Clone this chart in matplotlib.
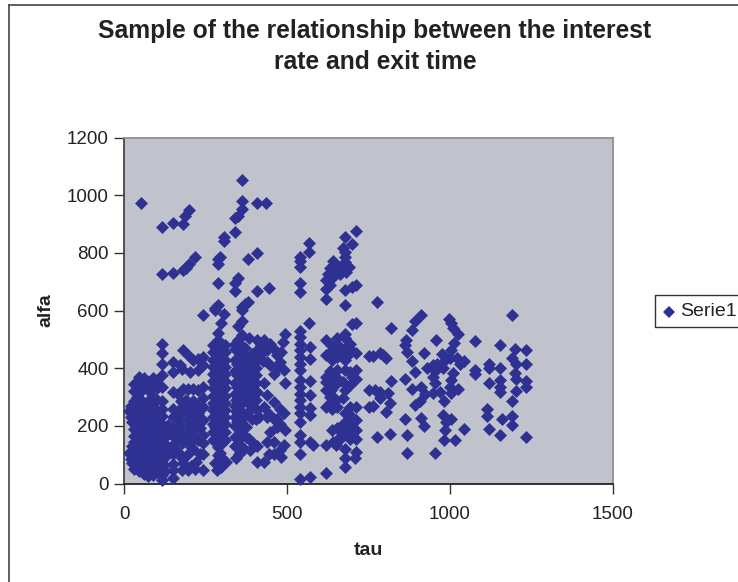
import matplotlib
matplotlib.use("Agg")
import matplotlib.pyplot as plt
from matplotlib.lines import Line2D

plt.rcParams['font.family'] = ['Liberation Sans', 'DejaVu Sans']

# sparse points above the main band
upper_pts = [(52,973),(117,888),(151,903),(180,901),(188,927),(199,947),(361,1053),(361,980),
    (408,973),(437,973),(361,951),(350,927),(340,922),(341,871),(307,855),(307,842),(117,726),
    (151,731),(182,740),(190,747),(198,763),(218,785),(294,786),(289,780),(288,762),(379,780),
    (408,801),(289,697),(340,694),(351,711),(340,666),(408,666),(445,677),(289,618),(279,609),
    (361,613),(371,622),(380,631),(540,784),(540,770),(568,835),(568,803),(540,751),(540,695),
    (540,665),(711,876),(677,855),(698,832),(672,818),(677,803),(677,786),(640,772),(677,769),
    (672,751),(631,746),(626,728),(642,717),(662,728),(682,734),(621,705),(631,688),(621,673),
    (713,690),(698,682),(677,670),(621,639),(677,618),(650,735),(660,750),(690,750)]

# right hand cloud, tau above 750
right_pts = [(777,629),(820,538),(910,586),(892,564),(882,532),(866,497),(861,480),(868,457),
    (882,424),(920,451),(958,499),(996,572),(1004,555),(1009,538),(1025,520),(1011,486),(1004,462),
    (974,449),(999,434),(1022,434),(1043,424),(1030,414),(984,428),(948,410),(928,399),(958,393),
    (892,387),(979,399),(1009,382),(948,370),(1004,358),(953,347),(863,361),(820,355),(882,327),
    (910,335),(999,335),(1025,327),(1004,314),(969,316),(948,315),(923,309),(907,287),(892,272),
    (982,286),(977,237),(1004,222),(989,214),(910,228),(920,199),(863,225),(984,185),(1043,188),
    (981,150),(1016,150),(868,167),(868,107),(953,107),(815,171),(777,162),(764,442),(785,451),
    (805,434),(764,268),(805,247),(815,280),(785,295),(769,324),(785,318),(810,314),(1077,495),
    (1077,393),(1077,379),(1120,414),(1120,399),(1120,349),(1152,480),(1152,399),(1152,358),
    (1152,335),(1152,318),(1191,586),(1199,468),(1191,436),(1203,414),(1199,382),(1203,364),
    (1203,321),(1191,286),(1234,462),(1234,414),(1234,355),(1234,335),(1115,257),(1115,235),
    (1158,225),(1191,234),(1191,202),(1120,188),(1152,167),(1234,161),(795,445),(950,395),(960,415)]

# columns at tau 540 to 570 and the 620-720 band
mid_pts = [(540,529),(540,508),(540,485),(540,462),(540,439),(540,416),(540,393),(570,474),(570,433),
    (540,358),(540,335),(540,312),(540,289),(540,266),(540,243),(540,214),(570,355),(570,308),
    (570,262),(570,237),(540,167),(540,144),(570,144),(580,133),(540,104),(540,17),(570,23),(621,35),
    (568,558),(698,552),(713,555),
    (621,497),(652,503),(677,520),(677,503),(693,485),(713,453),(621,445),(637,462),(652,480),
    (677,462),(693,451),(652,439),(677,428),(637,428),(621,370),(637,381),(652,393),(677,393),
    (693,387),(713,393),(621,353),(621,324),(632,301),(621,266),(637,260),(652,266),(693,341),
    (713,364),(672,353),(677,324),(672,295),(693,266),(713,266),(677,243),(693,220),(713,220),
    (672,208),(652,191),(637,185),(693,191),(713,185),(682,168),(642,145),(621,133),(662,162),
    (693,156),(713,156),(677,121),(713,110),(677,87),(708,87),(677,58),
    (750,441),(750,324),(750,266),(635,480),(665,470),(690,470),(660,445),(635,350),(650,370),
    (635,325),(650,345),(632,280),(650,290),(632,390),(700,370),(690,240),(685,200),(700,205),
    (660,150),(650,135),(670,175),(700,170),(640,300)]

# tau 330 to 500, left part of the arcs
arc_pts = [(361,515),(382,503),(340,485),(350,497),(408,497),(428,497),(449,485),(408,462),(439,462),
    (459,468),(408,428),(439,422),(449,410),(470,399),(490,393),(459,381),(428,347),(408,318),
    (439,306),(459,283),(479,260),(490,243),(408,254),(377,243),(393,225),(413,231),(439,231),
    (459,225),(470,196),(449,179),(495,185),(439,145),(459,145),(490,133),(408,130),(479,116),
    (459,104),(444,104),(483,92),(408,75),(428,75),(368,121),(353,104),(343,87),(383,156),(348,161),
    (388,116),(339,200),(339,230),(339,270),(339,310),(339,350),(339,390),(339,430),(339,465),
    (358,480),(358,450),(358,420),(358,395),(358,360),(358,330),(358,300),(358,275),(358,250),
    (358,215),(358,185),(358,160),(372,470),(375,440),(375,400),(375,370),(375,335),(375,305),
    (375,285),(375,195),(392,450),(392,410),(392,385),(392,350),(392,325),(392,295),(392,270),
    (339,160),(339,130),(358,130),(375,160),(392,145),(405,400),(405,375),(405,350),(405,290),
    (420,480),(420,450),(425,425),(470,445),(480,420),(470,225),(480,205),(445,240),(430,265),
    (405,225),(345,250),(345,290),(348,415),(348,375),(348,335),(366,425),(366,385),(366,345),
    (366,315),(383,420),(383,365),(383,310),(383,280),(348,215),(366,230),(366,200),(400,440)]

# tau 270 to 320, one solid column
tall_pts = [(289,522),(289,497),(289,475),(289,450),(289,428),(289,405),(289,380),(289,358),(289,335),
    (289,312),(289,290),(289,266),(289,243),(289,220),(289,196),(289,173),(289,150),(289,127),
    (274,480),(274,455),(274,430),(274,405),(274,380),(274,355),(274,330),(274,305),(274,280),
    (274,255),(274,230),(274,205),(274,180),(274,150),(310,480),(310,455),(310,430),(310,405),
    (310,380),(310,355),(310,330),(310,305),(310,280),(310,255),(310,230),(310,205),(310,180),
    (310,150),(295,107),(284,47),(279,70),(312,75),(297,58),(241,585),(279,601),(307,587),(297,558),
    (361,564),(350,546),(495,518),(488,491),(483,456),(493,347),(361,601),(289,100),(300,90),
    (300,465),(300,415),(300,370),(300,320),(300,275),(300,230),(300,185),(300,140),(280,420),
    (280,345),(280,270),(280,195)]

# tau 130 to 260, the looser block
block_pts = [(117,485),(117,451),(117,416),(117,376),(151,422),(151,387),(151,318),(151,260),(151,230),
    (151,194),(151,164),(151,133),(151,104),(151,69),(151,46),(151,20),(136,202),(165,202),(136,172),
    (165,172),(136,110),(165,110),(182,462),(197,445),(212,428),(228,433),(243,439),(177,398),
    (202,387),(228,393),(243,410),(172,410),(182,328),(197,328),(212,328),(228,323),(243,335),
    (167,312),(243,295),(243,266),(177,266),(192,266),(207,255),(172,243),(192,243),(212,243),
    (228,243),(172,220),(192,220),(212,220),(228,208),(172,196),(192,196),(212,196),(172,173),
    (192,173),(212,173),(233,191),(243,220),(243,168),(177,139),(207,127),(172,150),(192,150),
    (212,150),(233,104),(243,104),(243,139),(177,46),(197,46),(218,52),(243,46),(182,70),(205,60),
    (192,100),(222,75),(177,90),(228,270),(212,285),(190,290),(175,285),(228,150),(212,120)]

# dense corner, tau below 130: (tau, alfa values)
dense_tau = [15, 20, 26, 32, 39, 46, 53, 60, 67, 74, 81, 88, 95, 102, 109, 116, 124]
dense_alfa = [
    [250, 105],
    [270, 250, 232, 105, 85],
    [250, 215, 130, 70],
    [345, 320, 285, 262, 240, 215, 190, 165, 145, 120, 95, 75, 50],
    [300, 225, 180, 155, 110, 85, 60],
    [370, 345, 315, 295, 262, 240, 200, 175, 150, 128, 105, 82, 60, 42],
    [225, 185, 160, 135, 95, 70, 50],
    [365, 335, 275, 250, 218, 190, 165, 140, 118, 95, 70, 50, 32],
    [205, 175, 150, 125, 105, 80, 60, 40],
    [350, 325, 285, 240, 205, 180, 155, 130, 105, 82, 60, 40, 25],
    [215, 190, 165, 140, 115, 90, 70, 50],
    [365, 340, 300, 265, 232, 195, 170, 145, 120, 95, 72, 50, 30],
    [220, 180, 155, 130, 105, 80, 55],
    [360, 330, 290, 250, 210, 185, 160, 135, 110, 85, 62, 40],
    [195, 170, 145, 120, 95, 70, 48],
    [335, 285, 260, 235, 205, 180, 155, 130, 105, 80, 55, 30, 12],
    [190, 165, 140, 115, 90, 65, 40],
]

x_ticks = [0, 500, 1000, 1500]
y_ticks = [0, 200, 400, 600, 800, 1000, 1200]

tau = []
alfa = []
for pts in [upper_pts, right_pts, mid_pts, arc_pts, tall_pts, block_pts]:
    for p in pts:
        tau.append(p[0])
        alfa.append(p[1])
for t, vals in zip(dense_tau, dense_alfa):
    for v in vals:
        tau.append(t)
        alfa.append(v)

MARKER_COLOR = "#2e3192"
W, H = 738, 582

fig = plt.figure(figsize=(W / 100, H / 100), dpi=100)
ax = fig.add_axes([124 / W, 1 - 483.5 / H, (613 - 124) / W, (483.5 - 137.5) / H])
ax.set_facecolor("#c0c3cc")

ax.scatter(tau, alfa, marker="D", s=44, color=MARKER_COLOR, linewidths=0, clip_on=False, zorder=3)

ax.set_xlim(0, 1500)
ax.set_ylim(0, 1200)
ax.set_xticks(x_ticks)
ax.set_yticks(y_ticks)
ax.tick_params(axis="both", labelsize=13.5, length=7, width=1, color="#333333", labelcolor="#222222")
ax.tick_params(axis="y", pad=4)
ax.tick_params(axis="x", pad=9)

ax.spines["left"].set_color("#444444")
ax.spines["bottom"].set_color("#222222")
ax.spines["top"].set_color("#8c9096")
ax.spines["right"].set_color("#8c9096")
for s in ax.spines.values():
    s.set_linewidth(1.3)

ax.set_xlabel("tau", fontsize=14, fontweight="bold", labelpad=14, color="#222222")
ax.set_ylabel("alfa", fontsize=14, fontweight="bold", labelpad=9, color="#222222")

fig.text(375 / W, 1 - 46.5 / H, "Sample of the relationship between the interest\nrate and exit time",
         ha="center", va="center", fontsize=17.7, fontweight="bold", color="#222222", linespacing=1.33)

# chart frame, runs off the right and bottom of the picture
fig.add_artist(Line2D([9 / W, 9 / W], [0, 1 - 4.5 / H], color="#444444", lw=1.2))
fig.add_artist(Line2D([9 / W, 1], [1 - 4.5 / H, 1 - 4.5 / H], color="#444444", lw=1.2))

# legend box
fig.add_artist(Line2D([737 / W, 655 / W, 655 / W, 737 / W],
                      [1 - 294.5 / H, 1 - 294.5 / H, 1 - 327 / H, 1 - 327 / H],
                      color="#333333", lw=1))
fig.add_artist(Line2D([669 / W], [1 - 312 / H], marker="D", ms=6.5, color=MARKER_COLOR, mew=0, ls="none"))
fig.text(680 / W, 1 - 312 / H, "Serie1", ha="left", va="center", fontsize=14, color="#222222")

fig.savefig("out.png", dpi=100)
